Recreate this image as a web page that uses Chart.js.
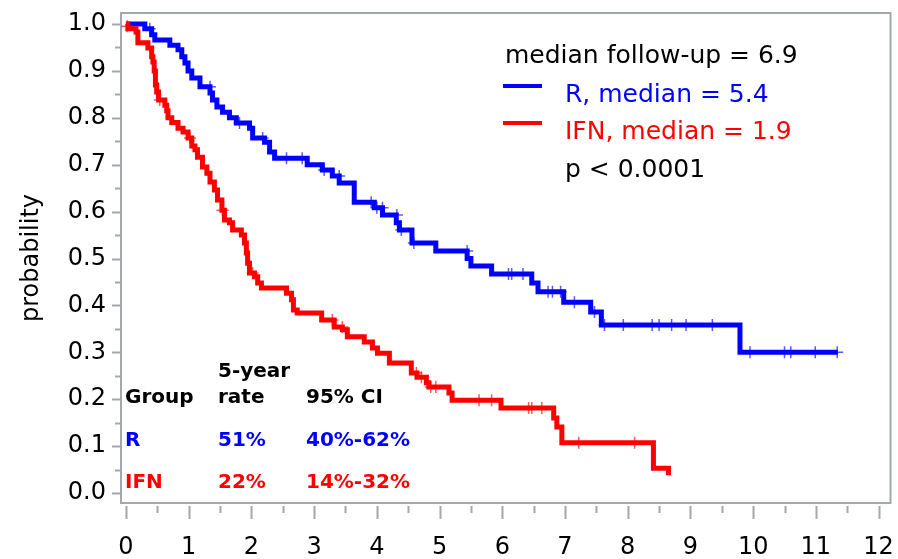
<!DOCTYPE html>
<html>
<head>
<meta charset="utf-8">
<script src="https://cdn.jsdelivr.net/npm/chart.js@4.4.1/dist/chart.umd.min.js"></script>
<style>
  body { margin: 0; background: #fff; }
  canvas { display: block; }
</style>
</head>
<body>
<canvas id="myChart" width="898" height="559"></canvas>
<script>
// R group: time (years) where the survival drops, and the new value
const rTimes = [0, 0.30, 0.41, 0.46, 0.70, 0.83, 0.89, 0.94, 0.99, 1.05, 1.18, 1.34, 1.38, 1.45, 1.54, 1.65, 1.76, 1.97, 2.02, 2.21, 2.29, 2.37, 2.89, 3.13, 3.29, 3.40, 3.64, 3.96, 4.09, 4.31, 4.36, 4.56, 4.94, 5.44, 5.50, 5.83, 6.47, 6.57, 6.98, 7.41, 7.58, 9.79, 11.35];
const rSurv = [1.0, 0.99, 0.977, 0.966, 0.955, 0.945, 0.93, 0.917, 0.90, 0.885, 0.866, 0.853, 0.838, 0.823, 0.812, 0.80, 0.789, 0.778, 0.757, 0.748, 0.727, 0.714, 0.70, 0.689, 0.676, 0.661, 0.620, 0.608, 0.593, 0.576, 0.561, 0.533, 0.516, 0.50, 0.484, 0.467, 0.448, 0.429, 0.407, 0.386, 0.358, 0.30, 0.30];
const rCensorTimes = [0.38, 1.34, 1.81, 2.18, 2.56, 2.81, 3.16, 3.40, 3.91, 4.00, 4.09, 4.32, 4.39, 4.59, 5.44, 6.10, 6.15, 6.33, 6.73, 6.80, 6.93, 7.15, 7.47, 7.63, 7.93, 8.39, 8.50, 8.70, 8.93, 9.35, 9.95, 10.50, 10.60, 10.99, 11.34];
const rCensorSurv = [0.99, 0.866, 0.789, 0.757, 0.714, 0.714, 0.689, 0.676, 0.620, 0.608, 0.608, 0.593, 0.561, 0.533, 0.516, 0.467, 0.467, 0.467, 0.429, 0.429, 0.429, 0.407, 0.386, 0.358, 0.358, 0.358, 0.358, 0.358, 0.358, 0.358, 0.30, 0.30, 0.30, 0.30, 0.30];

// IFN group
const ifnTimes = [0, 0.03, 0.16, 0.19, 0.35, 0.41, 0.43, 0.45, 0.47, 0.49, 0.52, 0.62, 0.65, 0.67, 0.73, 0.83, 0.91, 0.99, 1.05, 1.10, 1.14, 1.22, 1.29, 1.34, 1.41, 1.46, 1.53, 1.57, 1.65, 1.70, 1.84, 1.89, 1.92, 1.94, 1.97, 2.05, 2.10, 2.16, 2.56, 2.64, 2.67, 2.73, 3.12, 3.32, 3.45, 3.53, 3.80, 3.93, 4.01, 4.20, 4.55, 4.64, 4.79, 4.83, 5.15, 5.20, 5.98, 6.82, 6.87, 6.95, 8.41, 8.65];
const ifnSurv = [1.0, 0.99, 0.983, 0.96, 0.949, 0.93, 0.919, 0.90, 0.87, 0.855, 0.838, 0.827, 0.815, 0.80, 0.79, 0.778, 0.77, 0.757, 0.74, 0.732, 0.716, 0.695, 0.682, 0.663, 0.646, 0.625, 0.603, 0.582, 0.576, 0.561, 0.55, 0.533, 0.512, 0.49, 0.469, 0.461, 0.448, 0.437, 0.426, 0.412, 0.39, 0.384, 0.369, 0.354, 0.348, 0.333, 0.322, 0.309, 0.298, 0.277, 0.256, 0.247, 0.235, 0.226, 0.213, 0.198, 0.181, 0.16, 0.141, 0.107, 0.053, 0.038];
const ifnCensorTimes = [0.02, 0.54, 1.02, 1.54, 2.02, 3.29, 3.45, 4.63, 4.71, 4.86, 4.94, 5.63, 5.83, 6.42, 6.47, 6.63, 7.22, 8.11];
const ifnCensorSurv = [0.995, 0.838, 0.757, 0.603, 0.469, 0.369, 0.354, 0.256, 0.247, 0.226, 0.226, 0.198, 0.198, 0.181, 0.181, 0.181, 0.107, 0.107];

const xTicks = [0, 1, 2, 3, 4, 5, 6, 7, 8, 9, 10, 11, 12];
const yTicks = [0, 0.1, 0.2, 0.3, 0.4, 0.5, 0.6, 0.7, 0.8, 0.9, 1.0];
const yTickLabels = ["0.0", "0.1", "0.2", "0.3", "0.4", "0.5", "0.6", "0.7", "0.8", "0.9", "1.0"];

const legendText = ["median follow-up = 6.9", "R, median = 5.4", "IFN, median = 1.9", "p < 0.0001"];
const tableHead = [["", "5-year", ""], ["Group", "rate", "95% CI"]];
const tableRows = [["R", "51%", "40%-62%"], ["IFN", "22%", "14%-32%"]];

const blue = "#0000ff";
const red = "#ff0000";
const gray = "#a5a8ab";

function pts(xs, ys) {
  return xs.map((t, i) => ({ x: t, y: ys[i] }));
}

// chart.js reserves room for edge labels; the frame here is fixed, so drop it
function noPadding(scale) {
  scale.paddingLeft = 0;
  scale.paddingRight = 0;
  scale.paddingTop = 0;
  scale.paddingBottom = 0;
}

const decor = {
  id: "decor",
  beforeDatasetsDraw(chart) {
    const { ctx, chartArea: a, scales } = chart;
    const x = scales.x;
    const y = scales.y;
    ctx.save();
    ctx.strokeStyle = gray;
    ctx.lineWidth = 2;
    ctx.strokeRect(a.left, a.top, a.right - a.left, a.bottom - a.top);
    ctx.beginPath();
    // y ticks, major and minor
    yTicks.forEach((v, i) => {
      const py = Math.round(y.getPixelForValue(v)) + 0.5;
      ctx.moveTo(a.left - 9, py);
      ctx.lineTo(a.left, py);
      if (i < yTicks.length - 1) {
        const my = Math.round(y.getPixelForValue(v + 0.05)) + 0.5;
        ctx.moveTo(a.left - 6, my);
        ctx.lineTo(a.left, my);
      }
    });
    // x ticks, below the frame with a small gap
    xTicks.forEach((v, i) => {
      const px = Math.round(x.getPixelForValue(v)) + 0.5;
      ctx.moveTo(px, a.bottom + 3);
      ctx.lineTo(px, a.bottom + 16);
      if (i < xTicks.length - 1) {
        const mx = Math.round(x.getPixelForValue(v + 0.5)) + 0.5;
        ctx.moveTo(mx, a.bottom + 3);
        ctx.lineTo(mx, a.bottom + 10);
      }
    });
    ctx.stroke();
    ctx.restore();
  },
  afterDraw(chart) {
    const ctx = chart.ctx;
    ctx.save();
    // legend
    ctx.font = "25px 'DejaVu Sans'";
    ctx.textBaseline = "alphabetic";
    ctx.textAlign = "left";
    ctx.fillStyle = "#000";
    ctx.fillText(legendText[0], 505, 63);
    ctx.fillStyle = blue;
    ctx.fillText(legendText[1], 565, 102);
    ctx.fillStyle = red;
    ctx.fillText(legendText[2], 565, 139);
    ctx.fillStyle = "#000";
    ctx.fillText(legendText[3], 565, 177);
    ctx.lineWidth = 4;
    ctx.strokeStyle = blue;
    ctx.beginPath();
    ctx.moveTo(503, 86);
    ctx.lineTo(542, 86);
    ctx.stroke();
    ctx.strokeStyle = red;
    ctx.beginPath();
    ctx.moveTo(503, 123);
    ctx.lineTo(542, 123);
    ctx.stroke();
    // 5-year table
    const cols = [125, 218, 306];
    ctx.font = "bold 20px 'DejaVu Sans'";
    ctx.fillStyle = "#000";
    tableHead[0].forEach((s, i) => ctx.fillText(s, cols[i], 377));
    tableHead[1].forEach((s, i) => ctx.fillText(s, cols[i], 403));
    ctx.fillStyle = blue;
    tableRows[0].forEach((s, i) => ctx.fillText(s, cols[i], 446));
    ctx.fillStyle = red;
    tableRows[1].forEach((s, i) => ctx.fillText(s, cols[i], 488));
    ctx.restore();
  },
};

const ctx = document.getElementById("myChart");
const chart = new Chart(ctx, {
  type: "line",
  data: {
    datasets: [
      {
        label: "IFN censored",
        data: pts(ifnCensorTimes, ifnCensorSurv),
        showLine: false,
        pointStyle: "cross",
        pointRadius: 6,
        pointBorderWidth: 1.5,
        pointBorderColor: "rgba(255, 0, 0, 0.65)",
        pointBackgroundColor: "rgba(255, 0, 0, 0.65)",
      },
      {
        label: "IFN",
        data: pts(ifnTimes, ifnSurv),
        stepped: "before",
        borderColor: red,
        borderWidth: 5,
        pointRadius: 0,
        fill: false,
      },
      {
        label: "R censored",
        data: pts(rCensorTimes, rCensorSurv),
        showLine: false,
        pointStyle: "cross",
        pointRadius: 6,
        pointBorderWidth: 1.5,
        pointBorderColor: "rgba(0, 0, 255, 0.65)",
        pointBackgroundColor: "rgba(0, 0, 255, 0.65)",
      },
      {
        label: "R",
        data: pts(rTimes, rSurv),
        stepped: "before",
        borderColor: blue,
        borderWidth: 5,
        pointRadius: 0,
        fill: false,
      },
    ],
  },
  options: {
    responsive: false,
    animation: false,
    layout: { padding: { top: 13, right: 5, left: 0, bottom: 0 } },
    plugins: {
      legend: { display: false },
      tooltip: { enabled: false },
    },
    scales: {
      x: {
        type: "linear",
        min: -0.079,
        max: 12.19,
        afterBuildTicks: (scale) => {
          scale.ticks = xTicks.map((v) => ({ value: v }));
        },
        afterFit: (scale) => {
          scale.height = 56;
          noPadding(scale);
        },
        grid: { display: false, drawTicks: false },
        border: { display: false },
        ticks: {
          autoSkip: false,
          maxRotation: 0,
          padding: 30,
          color: "#000",
          font: { family: "DejaVu Sans", size: 24 },
          callback: (v) => String(v),
        },
      },
      y: {
        type: "linear",
        min: -0.0213,
        max: 1.0235,
        afterBuildTicks: (scale) => {
          scale.ticks = yTicks.map((v) => ({ value: v }));
        },
        afterFit: (scale) => {
          scale.width = 121;
          noPadding(scale);
        },
        grid: { display: false, drawTicks: false },
        border: { display: false },
        title: {
          display: true,
          text: "probability",
          color: "#000",
          font: { family: "DejaVu Sans", size: 24 },
          padding: { top: 17, bottom: 0 },
        },
        ticks: {
          autoSkip: false,
          padding: 15,
          color: "#000",
          font: { family: "DejaVu Sans", size: 24 },
          callback: (v, i) => yTickLabels[i],
        },
      },
    },
  },
  plugins: [decor],
});
</script>
</body>
</html>
